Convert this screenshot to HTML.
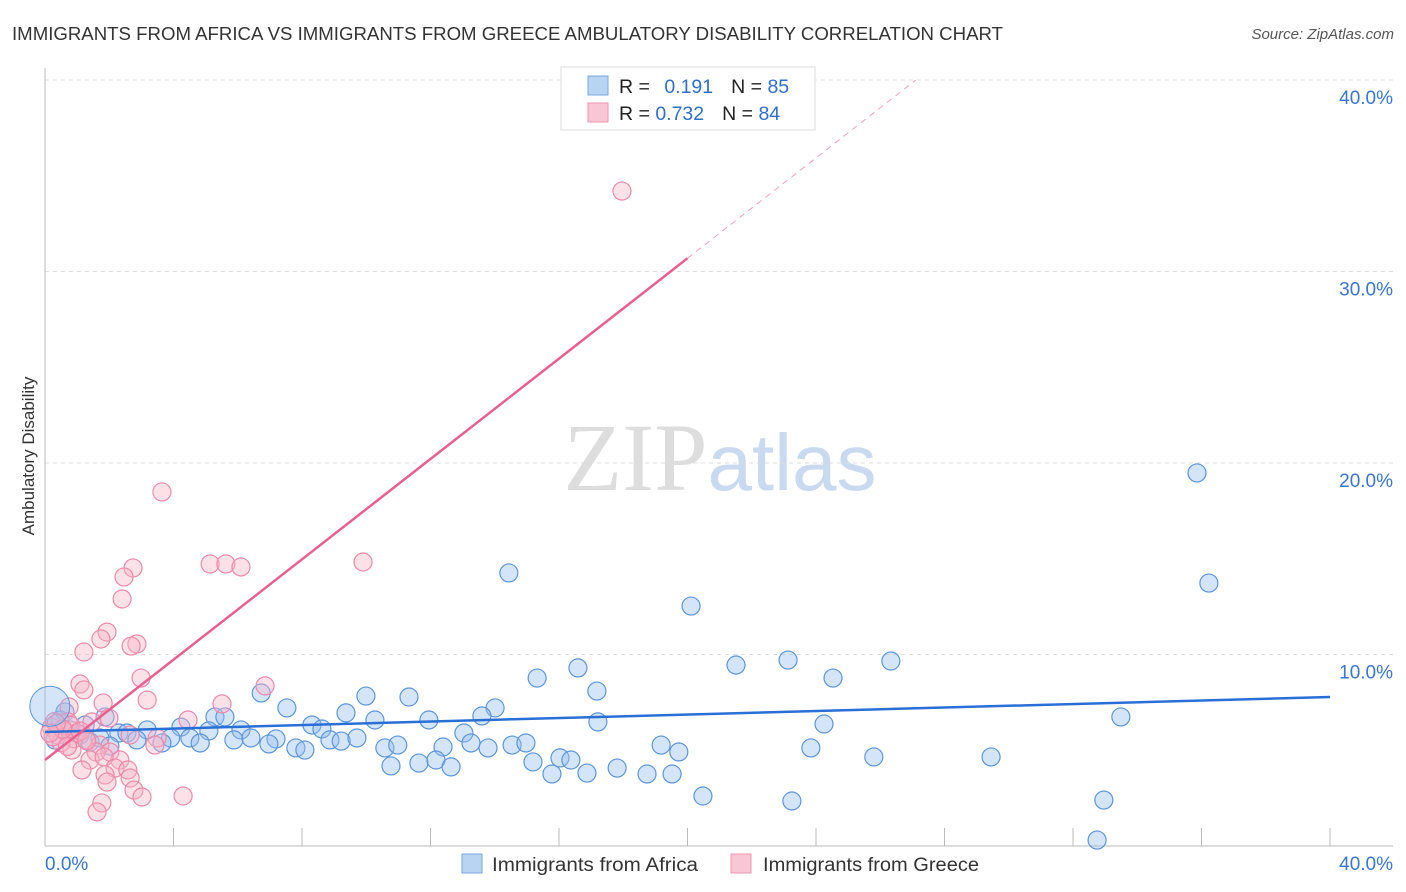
<!DOCTYPE html>
<html><head><meta charset="utf-8"><style>
body{margin:0;background:#fff;font-family:"Liberation Sans",sans-serif}
</style></head><body>
<svg id="c" width="1406" height="892" xmlns="http://www.w3.org/2000/svg" style="display:block">
<text x="12" y="40" font-size="18" fill="#333" textLength="991" lengthAdjust="spacingAndGlyphs">IMMIGRANTS FROM AFRICA VS IMMIGRANTS FROM GREECE AMBULATORY DISABILITY CORRELATION CHART</text>
<text x="1394" y="39" font-size="15" fill="#555" font-style="italic" text-anchor="end">Source: ZipAtlas.com</text>
<text transform="translate(34,456) rotate(-90)" font-size="17" fill="#333" text-anchor="middle">Ambulatory Disability</text>
<text x="720" y="490" font-size="96" text-anchor="middle" font-family="Liberation Serif,serif" fill="#ddd">ZIP<tspan fill="#c9d9ef" font-family="Liberation Sans,sans-serif" font-size="80">atlas</tspan></text>
<g id="grid"></g><g id="marks"></g><g id="lines"></g>
<g>
<rect x="561" y="67" width="254" height="63" fill="#fff" stroke="#ddd"/>
<rect x="588" y="76" width="20" height="19" fill="#b9d3f3" stroke="#7aa6dd"/>
<rect x="588" y="103" width="20" height="19" fill="#f9c6d5" stroke="#ee95b0"/>
<text x="619" y="93" font-size="19.5" fill="#222">R = <tspan fill="#2f6fcc" dx="9">0.191</tspan><tspan dx="18" fill="#222">N = </tspan><tspan fill="#2f6fcc">85</tspan></text>
<text x="619" y="120" font-size="19.5" fill="#222">R = <tspan fill="#2f6fcc">0.732</tspan><tspan dx="18" fill="#222">N = </tspan><tspan fill="#2f6fcc">84</tspan></text>
</g>
<g>
<rect x="462" y="854" width="20" height="19" fill="#b9d3f3" stroke="#7aa6dd"/>
<text x="492" y="871" font-size="19" fill="#333" textLength="206" lengthAdjust="spacingAndGlyphs">Immigrants from Africa</text>
<rect x="731" y="854" width="20" height="19" fill="#f9c6d5" stroke="#ee95b0"/>
<text x="763" y="871" font-size="19" fill="#333" textLength="216" lengthAdjust="spacingAndGlyphs">Immigrants from Greece</text>
</g>
</svg>
<script>
const yTicks=[10,20,30,40];
const xTickLabels=["0.0%","40.0%"];
const africaX=[35.86,36.23,14.44,20.11,23.13,26.33,21.51,16.59,15.32,24.53,17.18,9.99,11.33,6.73,7.53,14.01,33.49,9.37,10.27,11.95,13.60,17.21,24.25,5.29,5.60,4.23,8.31,8.62,6.10,5.10,3.18,2.30,2.55,13.04,1.87,4.51,3.91,2.86,5.88,6.41,7.19,8.87,9.22,9.71,3.64,4.83,6.97,7.81,8.09,10.58,10.98,12.39,13.26,13.79,14.54,14.97,19.18,19.73,23.84,15.19,16.03,16.37,25.80,29.45,10.77,11.64,12.17,12.64,15.78,16.87,17.81,18.74,19.52,20.48,23.25,32.96,32.75,0.47,0.78,0.31,1.09,1.40,1.71,0.62,1.25,2.02];
const africaY=[19.48,13.73,14.26,12.53,9.71,9.66,9.45,9.30,8.77,8.77,8.09,7.83,7.78,7.99,7.21,7.21,6.74,6.95,6.58,6.58,6.79,6.48,6.37,6.74,6.74,6.21,6.32,6.11,6.06,6.01,6.06,5.90,5.90,5.90,6.74,5.64,5.64,5.54,5.54,5.64,5.59,5.54,5.48,5.64,5.38,5.38,5.33,5.12,5.01,5.12,5.27,5.17,5.38,5.12,5.27,5.38,5.27,4.91,5.12,4.39,4.60,4.49,4.65,4.65,4.18,4.33,4.49,4.13,3.76,3.81,4.07,3.76,3.76,2.61,2.35,2.40,0.31,6.58,6.06,5.54,5.80,5.43,5.64,7.0,6.32,5.22];
const greeceX=[17.96,3.64,9.90,5.14,5.63,6.10,2.74,2.46,2.40,1.93,1.74,2.86,2.68,1.21,2.99,6.85,1.09,1.21,3.18,1.81,5.51,0.75,4.45,1.99,1.46,0.72,3.49,3.42,2.65,1.28,1.71,0.84,2.02,1.59,2.33,1.40,1.84,1.15,2.18,2.58,1.87,1.93,2.65,2.77,3.02,4.30,1.77,1.62,0.2,0.4,0.6,0.9,0.3,0.5,0.8,1.0,0.25,0.55,1.1,0.7,0.35,1.3,0.15];
const greeceY=[34.2,18.49,14.83,14.73,14.73,14.57,14.52,14.05,12.90,11.17,10.81,10.55,10.44,10.13,8.77,8.36,8.46,8.15,7.62,7.47,7.42,7.26,6.58,6.68,6.48,6.48,5.64,5.27,5.80,5.54,5.27,5.01,4.91,4.91,4.49,4.49,4.65,3.97,4.07,3.97,3.71,3.34,3.55,2.92,2.56,2.61,2.25,1.78,6.2,5.8,6.0,5.6,6.5,5.4,6.3,5.9,5.7,6.1,6.0,5.2,6.4,5.5,5.9];
const africaTrend=[5.95,7.78];
const greeceTrend=[4.49,1.31];
const X=v=>45+v*32.125, Y=v=>846-v*19.15;
const NS="http://www.w3.org/2000/svg";
function mk(t,a,p){const e=document.createElementNS(NS,t);for(const k in a)e.setAttribute(k,a[k]);p.appendChild(e);return e;}
const grid=document.getElementById('grid');
yTicks.forEach(t=>{
 const l=mk('line',{x1:45,x2:1393,y1:Y(t),y2:Y(t),stroke:'#ddd','stroke-dasharray':'4,4'},grid);
 
 
 const tx=mk('text',{x:1393,y:Y(t)+24,'font-size':19,fill:'#3a75d0','text-anchor':'end'},grid);
 tx.textContent=t.toFixed(1)+'%';
 
 
});
const ax=mk('line',{x1:45,x2:45,y1:68,y2:846,stroke:'#bbb'},grid);


const bx=mk('line',{x1:45,x2:1393,y1:846,y2:846,stroke:'#bbb'},grid);


for(let i=0;i<=10;i++){const tk=mk('line',{x1:X(i*4),x2:X(i*4),y1:828,y2:846,stroke:'#bbb'},grid);
 
 }
[[X(0),'start',0],[1393,'end',1]].forEach(([x,a,i])=>{const t=mk('text',{x:x,y:870,'font-size':19,fill:'#3a75d0','text-anchor':a},grid);t.textContent=xTickLabels[i];
 
 });
const marks=document.getElementById('marks');
africaX.forEach((x,i)=>{const c=mk('circle',{cx:X(x),cy:Y(africaY[i]),r:9,fill:'rgba(150,190,240,0.4)',stroke:'#5c95da','stroke-width':1.2},marks);
 
 });
greeceX.forEach((x,i)=>{const c=mk('circle',{cx:X(x),cy:Y(greeceY[i]),r:9,fill:'rgba(248,180,200,0.4)',stroke:'#ec8aaa','stroke-width':1.2},marks);
 
 });
const big=mk('circle',{cx:X(0.15),cy:Y(7.3),r:20,fill:'rgba(150,190,240,0.4)',stroke:'#5c95da'},marks);


const lines=document.getElementById('lines');
const bl=mk('line',{x1:X(0),y1:Y(africaTrend[0]),x2:X(40),y2:Y(africaTrend[1]),stroke:'#2a6fd6','stroke-width':2.5},lines);


const g=x=>greeceTrend[0]+greeceTrend[1]*x;
const pl=mk('line',{x1:X(0),y1:Y(g(0)),x2:X(20),y2:Y(g(20)),stroke:'#e8608e','stroke-width':2.5},lines);


const pd=mk('line',{x1:X(20),y1:Y(g(20)),x2:X(27.1),y2:Y(g(27.1)),stroke:'#f0a0bb','stroke-width':1,'stroke-dasharray':'6,5'},lines);


</script>
</body></html>
